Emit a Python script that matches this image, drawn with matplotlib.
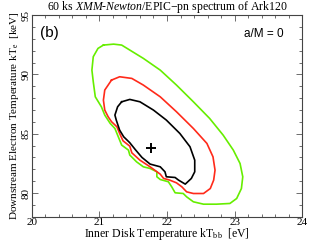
import numpy as np
import matplotlib as mpl
mpl.use("Agg")
import matplotlib.pyplot as plt
from matplotlib.ticker import MultipleLocator

mpl.rcParams['mathtext.fontset'] = 'custom'
mpl.rcParams['mathtext.rm'] = 'Liberation Serif'
mpl.rcParams['mathtext.it'] = 'Liberation Serif:italic'

# contour levels (kT_bb [eV], kT_e [keV])
green_x = [21.06, 21.21, 21.33, 21.45, 21.65, 21.90, 22.14, 22.39, 22.63, 22.83, 22.98, 23.08,
           23.12, 23.10, 23.03, 22.93, 22.73, 22.54, 22.39, 22.29, 22.24, 22.12, 22.07, 22.02,
           21.90, 21.85, 21.85, 21.75, 21.65, 21.55, 21.45, 21.43, 21.33, 21.28, 21.23, 21.16,
           21.08, 21.03, 20.94, 20.91, 20.89, 20.91, 20.98]
green_y = [92.47, 92.55, 92.47, 92.05, 91.35, 90.36, 89.10, 87.69, 86.29, 84.88, 83.62, 82.49,
           81.37, 80.38, 79.54, 79.12, 79.06, 79.06, 79.26, 79.68, 79.96, 80.02, 80.52, 80.95,
           81.14, 81.37, 81.79, 82.07, 82.21, 82.63, 83.20, 83.62, 84.04, 84.74, 85.44, 85.87,
           86.57, 87.27, 88.11, 89.38, 90.36, 91.49, 92.19]

red_x = [21.18, 21.30, 21.48, 21.65, 21.90, 22.14, 22.39, 22.59, 22.68, 22.71, 22.69, 22.64,
         22.54, 22.39, 22.29, 22.22, 22.14, 22.04, 21.95, 21.90, 21.75, 21.60, 21.48, 21.45,
         21.35, 21.30, 21.26, 21.18, 21.13, 21.08, 21.06, 21.08]
red_y = [89.52, 89.80, 89.66, 89.10, 88.11, 86.85, 85.44, 84.18, 83.05, 81.93, 81.09, 80.38,
         79.96, 79.96, 80.10, 80.52, 80.86, 81.09, 81.23, 81.59, 82.21, 82.77, 83.39, 83.95,
         84.40, 85.02, 85.58, 86.01, 86.43, 86.99, 87.83, 88.68]

black_x = [21.33, 21.45, 21.60, 21.80, 21.99, 22.19, 22.34, 22.41, 22.41, 22.36, 22.27, 22.17,
           22.12, 21.99, 21.97, 21.90, 21.75, 21.63, 21.53, 21.45, 21.36, 21.30, 21.25, 21.23,
           21.27]
black_y = [87.69, 87.89, 87.69, 86.99, 86.15, 85.02, 83.90, 82.77, 81.79, 81.23, 80.75, 81.09,
           81.31, 81.37, 81.79, 82.21, 82.44, 83.00, 83.67, 84.24, 84.74, 85.30, 86.15, 86.57,
           87.27]

best_fit = (21.77, 83.8)

fig = plt.figure(figsize=(3.09, 2.43), dpi=100)
ax = fig.add_axes([0.1026, 0.108, 0.8757, 0.830])

for xs, ys, c in [(green_x, green_y, '#66ee00'), (red_x, red_y, '#ff2a1a'), (black_x, black_y, 'black')]:
    ax.plot(xs + xs[:1], ys + ys[:1], color=c, lw=1.2)
ax.plot(*best_fit, marker='+', color='black', ms=7, mew=1.4)

ax.set_xlim(20, 24)
ax.set_ylim(78, 95)
ax.xaxis.set_major_locator(MultipleLocator(1))
ax.xaxis.set_minor_locator(MultipleLocator(0.2))
ax.yaxis.set_major_locator(MultipleLocator(5))
ax.yaxis.set_minor_locator(MultipleLocator(1))
ax.tick_params(which='both', direction='in', top=True, right=True, width=0.6, color='#555555')
ax.tick_params(which='major', length=4, labelsize=8, pad=1)
ax.tick_params(which='minor', length=2.5)
for lab in ax.get_xticklabels() + ax.get_yticklabels():
    lab.set_family('Liberation Serif')
for lab in ax.get_yticklabels():
    lab.set_rotation(90)
    lab.set_va('center')
for s in ax.spines.values():
    s.set_linewidth(0.8)
    s.set_color('#444444')

ax.set_xlabel(r'Inner Disk Temperature kT$_{\rm bb}$  [eV]', family='Liberation Serif', fontsize=8.5, labelpad=-0.5)
ax.set_ylabel(r'Downstream Electron Temperature kT$_{\rm e}$  [keV]', family='Liberation Serif', fontsize=8, labelpad=0)
ax.set_title(r'60 ks $\it{XMM}$-$\it{Newton}$/EPIC$-$pn spectrum of Ark120', family='Liberation Serif',
             fontsize=8.5, pad=4)
ax.text(0.03, 0.91, '(b)', transform=ax.transAxes, family='Liberation Sans', fontsize=11, va='center')
ax.text(0.93, 0.905, 'a/M = 0', transform=ax.transAxes, family='Liberation Sans', fontsize=8.5,
        va='center', ha='right')

fig.savefig('out.png', dpi=100)
